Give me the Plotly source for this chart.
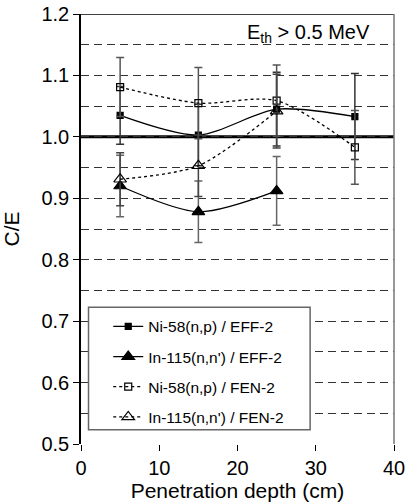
import plotly.graph_objects as go

depth4 = [5, 15, 25, 35]
depth3 = [5, 15, 25]
ni_eff = [1.035, 1.003, 1.045, 1.033]
ni_eff_err = [0.047, 0.05, 0.06, 0.07]
in_eff = [0.920, 0.878, 0.912]
in_eff_err = [0.05, 0.05, 0.056]
ni_fen = [1.081, 1.055, 1.059, 0.983]
ni_fen_err = [0.048, 0.058, 0.058, 0.06]
in_fen = [0.931, 0.953, 1.042]
in_fen_err = [0.043, 0.05, 0.06]

names = ["Ni-58(n,p) / EFF-2", "In-115(n,n') / EFF-2", "Ni-58(n,p) / FEN-2", "In-115(n,n') / FEN-2"]

FONT = "Liberation Sans, Arial, sans-serif"
fig = go.Figure()

def add(x, y, err, name, dash, symbol, size, ecol):
    fig.add_trace(go.Scatter(
        x=x, y=y, name=name, mode="lines+markers", legendgroup=name,
        line=dict(color="black", width=1.3, dash=dash, shape="spline", smoothing=0.8),
        marker=dict(symbol=symbol, size=size, color="black",
                    line=dict(color="black", width=1.2)),
        error_y=dict(type="data", array=err, visible=True, color=ecol,
                     thickness=1.5, width=4),
    ))

add(depth4, ni_eff, ni_eff_err, names[0], "solid", "square", 6, "#333333")
add(depth3, in_eff, in_eff_err, names[1], "solid", "triangle-up", 11, "#666666")
add(depth4, ni_fen, ni_fen_err, names[2], "dot", "square-open", 7, "#555555")
add(depth3, in_fen, in_fen_err, names[3], "dot", "triangle-up-open", 11, "#444444")

fig.update_layout(
    width=405, height=502,
    margin=dict(l=81, r=11, t=14, b=58),
    paper_bgcolor="white", plot_bgcolor="white",
    font=dict(family=FONT, color="black", size=20),
    showlegend=True,
    legend=dict(x=0.087, y=0.312, xanchor="left", yanchor="top",
                bgcolor="rgba(0,0,0,0)", borderwidth=0,
                font=dict(size=15.5, family=FONT),
                traceorder="grouped", tracegroupgap=7),
    xaxis=dict(range=[0, 40], dtick=10, showgrid=False, zeroline=False,
               showline=False, ticks="outside", ticklen=6, tickcolor="black",
               tickwidth=1, automargin=False, ticklabeloverflow="allow",
               title=dict(text="Penetration depth (cm)", font=dict(size=21), standoff=2)),
    yaxis=dict(range=[0.5, 1.2], dtick=0.1, tickformat=".1f", zeroline=False,
               showline=True, linecolor="black", linewidth=1.5, automargin=False,
               ticklabeloverflow="allow",
               ticks="outside", ticklen=6, tickcolor="black",
               showgrid=True, gridcolor="#333333", gridwidth=1.2, griddash="8px,5px",
               minor=dict(dtick=0.05, showgrid=True, gridcolor="#333333",
                          gridwidth=1.2, griddash="8px,5px"),
               title=dict(text="C/E", font=dict(size=21), standoff=20)),
)

# frame: top solid line, right gray line, thick reference line at 1.0, legend box
fig.add_shape(type="line", xref="paper", yref="y", x0=0, x1=1, y0=1.2, y1=1.2,
              line=dict(color="black", width=1.5))
fig.add_shape(type="line", xref="paper", yref="paper", x0=1, x1=1, y0=0, y1=1,
              line=dict(color="#777777", width=1.5))
fig.add_shape(type="line", xref="paper", yref="y", x0=0, x1=1, y0=1.0, y1=1.0,
              line=dict(color="black", width=3), layer="below")
fig.add_shape(type="rect", xref="paper", yref="paper", x0=0.024, x1=0.732,
              y0=0.033, y1=0.318, line=dict(color="#666666", width=1.5),
              fillcolor="white", layer="above")

fig.add_annotation(text="E<sub>th</sub> &gt; 0.5 MeV", xref="paper", yref="paper",
                   x=0.93, y=0.955, xanchor="right", yanchor="middle",
                   showarrow=False, font=dict(size=20, family=FONT))

fig.write_html("out.html")
